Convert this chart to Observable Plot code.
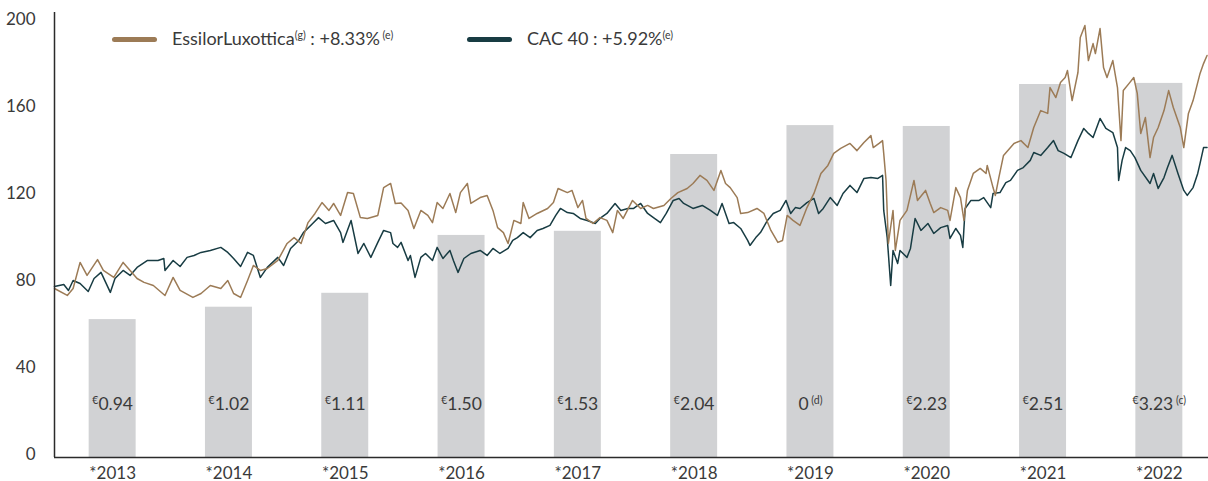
<!DOCTYPE html>
<html><head><meta charset="utf-8">
<script src="https://cdn.jsdelivr.net/npm/d3@7"></script>
<script src="https://cdn.jsdelivr.net/npm/@observablehq/plot@0.6"></script>
<style>
body{margin:0;background:#fff;font-family:Lato,sans-serif;color:#3a3a3a}
#wrap{position:relative;width:1208px;height:481px}
.leg{position:absolute;top:28px;display:flex;align-items:center;font-size:18px;white-space:nowrap;line-height:20px}
.sw{width:45px;height:5px;border-radius:3px;margin-right:15px}
.sup{font-size:10.5px;position:relative;top:-6px}
</style></head><body><div id="wrap"></div>
<script>
const years = [2013,2014,2015,2016,2017,2018,2019,2020,2021,2022];
const barValues = [63.4,69.1,75.5,102.1,104.0,139.3,152.6,152.2,171.5,172.0];
const dividendPrefix = ["€","€","€","€","€","€","","€","€","€"];
const dividendLabels = ["0.94","1.02","1.11","1.50","1.53","2.04","0","2.23","2.51","3.23"];
const dividendNotes = ["","","","","","","(d)","","","(c)"];
const yTicks = [0,40,80,120,160,200];
const seriesNames = ["EssilorLuxottica","CAC 40"];
const seriesPerf = ["+8.33%","+5.92%"];
const seriesNotes = [["(g)","(e)"],["","(e)"]];

const essilorSeries = [[2013.00,77.7],[2013.11,74.5],[2013.16,77.7],[2013.22,89.7],[2013.28,83.7],[2013.37,91.0],[2013.42,86.0],[2013.51,82.8],[2013.59,89.7],[2013.65,86.0],[2013.71,82.3],[2013.77,80.5],[2013.85,79.1],[2013.95,74.5],[2014.02,82.8],[2014.08,76.8],[2014.19,73.6],[2014.26,75.4],[2014.34,79.1],[2014.43,77.7],[2014.49,81.4],[2014.54,75.4],[2014.60,73.6],[2014.66,81.4],[2014.71,88.3],[2014.77,86.0],[2014.83,86.9],[2014.92,90.6],[2015.00,98.4],[2015.06,101.1],[2015.12,98.4],[2015.18,108.0],[2015.24,112.2],[2015.30,117.2],[2015.36,113.6],[2015.40,116.8],[2015.46,111.3],[2015.52,121.8],[2015.57,121.4],[2015.63,110.3],[2015.69,109.9],[2015.78,111.3],[2015.83,124.1],[2015.89,126.0],[2015.93,116.8],[2015.98,117.0],[2016.04,113.6],[2016.09,105.3],[2016.15,113.6],[2016.21,111.3],[2016.25,108.0],[2016.29,117.2],[2016.34,114.5],[2016.40,121.4],[2016.45,112.6],[2016.49,121.8],[2016.55,126.0],[2016.58,116.8],[2016.66,119.5],[2016.72,120.5],[2016.77,113.6],[2016.81,105.7],[2016.86,103.4],[2016.90,98.4],[2016.95,109.0],[2017.01,107.6],[2017.03,117.2],[2017.08,109.9],[2017.15,112.2],[2017.24,114.5],[2017.29,117.2],[2017.33,123.7],[2017.41,121.8],[2017.45,122.8],[2017.50,114.9],[2017.54,118.2],[2017.57,109.9],[2017.63,107.6],[2017.69,110.3],[2017.75,109.0],[2017.80,103.4],[2017.84,113.6],[2017.89,109.9],[2017.97,118.2],[2018.04,114.5],[2018.10,115.9],[2018.15,114.5],[2018.24,115.9],[2018.30,119.1],[2018.36,121.8],[2018.44,123.7],[2018.49,126.0],[2018.55,129.7],[2018.61,127.4],[2018.67,122.8],[2018.73,132.0],[2018.77,126.0],[2018.81,124.1],[2018.87,119.5],[2018.90,112.2],[2018.96,112.6],[2019.04,114.5],[2019.10,112.2],[2019.16,104.4],[2019.22,98.9],[2019.26,99.8],[2019.30,111.3],[2019.35,109.0],[2019.41,106.7],[2019.47,114.9],[2019.53,121.4],[2019.56,126.0],[2019.59,130.6],[2019.65,134.3],[2019.70,139.8],[2019.76,142.1],[2019.84,144.4],[2019.90,141.1],[2019.96,144.8],[2020.02,148.0],[2020.04,142.5],[2020.09,144.4],[2020.12,145.7],[2020.13,139.8],[2020.15,127.4],[2020.17,98.4],[2020.21,113.6],[2020.23,95.2],[2020.27,109.0],[2020.33,113.6],[2020.39,127.4],[2020.42,118.2],[2020.49,122.8],[2020.53,116.8],[2020.56,112.6],[2020.62,114.9],[2020.68,113.6],[2020.70,109.0],[2020.75,124.1],[2020.79,119.5],[2020.82,109.0],[2020.85,122.8],[2020.90,130.6],[2020.96,132.9],[2021.01,130.6],[2021.02,134.3],[2021.07,124.1],[2021.09,120.5],[2021.12,128.7],[2021.16,138.9],[2021.25,144.4],[2021.31,145.7],[2021.37,142.5],[2021.42,151.7],[2021.48,159.5],[2021.54,158.2],[2021.56,170.1],[2021.61,165.5],[2021.65,172.4],[2021.69,174.7],[2021.71,177.9],[2021.75,164.1],[2021.80,177.0],[2021.82,193.1],[2021.86,198.6],[2021.89,182.5],[2021.93,190.3],[2021.95,185.7],[2021.99,197.2],[2022.02,179.3],[2022.05,174.7],[2022.10,182.5],[2022.14,170.1],[2022.17,145.7],[2022.19,168.7],[2022.24,172.0],[2022.28,174.7],[2022.31,167.4],[2022.34,149.0],[2022.38,156.3],[2022.42,137.9],[2022.45,147.1],[2022.49,151.7],[2022.54,159.5],[2022.58,168.7],[2022.62,160.9],[2022.68,151.7],[2022.71,142.5],[2022.75,158.2],[2022.79,164.1],[2022.85,176.6],[2022.88,181.1],[2022.91,184.8]];

const cacSeries = [[2013.00,78.6],[2013.08,79.5],[2013.12,76.8],[2013.16,81.4],[2013.22,80.0],[2013.29,76.3],[2013.34,82.3],[2013.40,85.1],[2013.46,78.2],[2013.48,75.9],[2013.52,82.3],[2013.59,86.0],[2013.65,83.7],[2013.71,87.4],[2013.80,90.6],[2013.89,90.6],[2013.94,91.5],[2013.95,86.0],[2014.02,90.6],[2014.08,87.8],[2014.14,92.0],[2014.20,92.9],[2014.26,94.3],[2014.34,95.2],[2014.43,96.6],[2014.49,94.3],[2014.54,91.5],[2014.60,87.8],[2014.66,94.3],[2014.71,92.9],[2014.77,82.8],[2014.83,87.4],[2014.92,92.0],[2014.97,88.3],[2015.03,96.1],[2015.10,99.8],[2015.14,103.4],[2015.22,107.6],[2015.27,110.3],[2015.33,107.6],[2015.40,109.0],[2015.46,103.4],[2015.48,98.9],[2015.55,109.0],[2015.61,93.8],[2015.66,98.4],[2015.72,92.0],[2015.78,98.9],[2015.83,104.4],[2015.89,103.4],[2015.91,98.4],[2015.95,96.6],[2015.98,98.9],[2016.04,90.6],[2016.06,92.9],[2016.10,82.8],[2016.15,92.0],[2016.19,93.8],[2016.25,90.6],[2016.29,96.6],[2016.34,91.5],[2016.40,95.2],[2016.43,90.6],[2016.47,85.1],[2016.52,91.5],[2016.58,93.8],[2016.66,95.2],[2016.72,92.9],[2016.77,96.1],[2016.83,93.8],[2016.90,96.1],[2016.94,99.8],[2016.98,101.1],[2017.03,103.4],[2017.09,101.1],[2017.15,104.4],[2017.20,105.3],[2017.26,106.7],[2017.31,111.3],[2017.35,114.5],[2017.41,112.6],[2017.46,112.2],[2017.52,109.9],[2017.58,109.0],[2017.65,107.6],[2017.69,109.9],[2017.75,112.2],[2017.82,116.8],[2017.87,113.6],[2017.93,114.5],[2017.98,114.5],[2018.04,116.8],[2018.10,112.2],[2018.15,110.3],[2018.21,108.0],[2018.26,112.2],[2018.32,118.2],[2018.37,119.1],[2018.41,116.8],[2018.49,114.5],[2018.57,115.9],[2018.64,113.6],[2018.70,111.3],[2018.74,116.8],[2018.80,107.6],[2018.84,108.0],[2018.90,105.3],[2018.96,99.8],[2018.98,97.5],[2019.03,101.1],[2019.07,103.4],[2019.13,109.0],[2019.18,112.2],[2019.24,113.6],[2019.29,118.2],[2019.33,112.2],[2019.37,114.9],[2019.41,114.5],[2019.47,117.2],[2019.53,119.1],[2019.57,112.2],[2019.61,114.5],[2019.67,119.5],[2019.73,115.9],[2019.78,121.4],[2019.84,125.1],[2019.90,121.8],[2019.96,128.3],[2020.02,128.7],[2020.08,128.3],[2020.12,129.7],[2020.13,113.6],[2020.16,101.1],[2020.19,79.1],[2020.21,95.2],[2020.25,89.2],[2020.27,95.2],[2020.33,92.0],[2020.36,96.1],[2020.40,109.9],[2020.45,104.4],[2020.51,107.6],[2020.56,103.0],[2020.62,105.7],[2020.68,106.7],[2020.70,100.7],[2020.75,105.3],[2020.79,102.1],[2020.81,96.6],[2020.83,114.5],[2020.88,118.2],[2020.95,118.2],[2020.99,119.5],[2021.05,114.9],[2021.07,121.4],[2021.13,121.8],[2021.18,126.4],[2021.22,127.4],[2021.28,132.0],[2021.33,133.3],[2021.39,136.6],[2021.42,140.2],[2021.48,138.9],[2021.54,142.5],[2021.59,145.7],[2021.63,141.1],[2021.68,139.8],[2021.74,137.9],[2021.80,145.7],[2021.85,151.3],[2021.89,149.0],[2021.93,147.1],[2021.99,155.9],[2022.04,151.3],[2022.10,149.4],[2022.14,142.5],[2022.15,127.4],[2022.18,136.6],[2022.21,142.5],[2022.25,141.1],[2022.29,137.9],[2022.34,132.0],[2022.42,126.0],[2022.45,130.6],[2022.49,123.7],[2022.54,128.7],[2022.57,133.3],[2022.61,138.9],[2022.66,130.6],[2022.71,122.8],[2022.74,120.5],[2022.79,124.1],[2022.83,130.6],[2022.85,135.2],[2022.88,142.5],[2022.91,142.5]];

const colors = {essilor:"#9c7b56", cac:"#183c43", bar:"#d1d2d4", text:"#3a3a3a", axis:"#2b2b2b"};

const bars = years.map((year,i)=>({year, value:barValues[i], pre:dividendPrefix[i], label:dividendLabels[i], note:dividendNotes[i]}));
const el = essilorSeries.map(([t,v])=>({t,v}));
const cac = cacSeries.map(([t,v])=>({t,v}));

const chart = Plot.plot({
  width:1208, height:481,
  marginTop:12, marginBottom:24, marginLeft:54, marginRight:0,
  style:{fontFamily:"Lato, sans-serif", fontSize:"17px", color:colors.text, background:"#fff", overflow:"visible"},
  x:{type:"linear", domain:[2013,2023], range:[54,1217], ticks:years.map(y=>y+0.5), tickFormat:d=>"*"+Math.floor(d), tickSize:0, tickPadding:9, label:null},
  y:{domain:[0,200], range:[457,22], ticks:yTicks, tickSize:0, tickPadding:19, label:null},
  marks:[
    Plot.rectY(bars,{x1:d=>d.year+0.298, x2:d=>d.year+0.702, y1:0, y2:"value", fill:colors.bar}),
    Plot.text(bars,{x:d=>d.year+0.5, frameAnchor:"bottom", dy:-48, text:d=>`${d.pre}|${d.label}|${d.note}`, fill:colors.text, fontSize:17.5}),
    Plot.line(cac,{x:"t", y:"v", stroke:colors.cac, strokeWidth:1.5}),
    Plot.line(el,{x:"t", y:"v", stroke:colors.essilor, strokeWidth:1.5}),
    Plot.ruleY([0],{stroke:colors.axis, strokeWidth:1.5}),
    Plot.ruleX([2013],{stroke:colors.axis, strokeWidth:1.5})
  ]
});

const NS = "http://www.w3.org/2000/svg";
chart.querySelectorAll("text").forEach(t=>{
  const s = t.textContent;
  if (!s.includes("|")) return;
  const [pre, main, note] = s.split("|");
  t.textContent = "";
  if (pre) { const a = document.createElementNS(NS,"tspan"); a.setAttribute("font-size","10.5"); a.setAttribute("dy","-6"); a.textContent = pre; t.appendChild(a); }
  const b = document.createElementNS(NS,"tspan"); if (pre) b.setAttribute("dy","6"); b.textContent = main; t.appendChild(b);
  if (note) { const c = document.createElementNS(NS,"tspan"); c.setAttribute("font-size","10.5"); c.setAttribute("dy","-6"); c.textContent = "\u00a0" + note; t.appendChild(c); }
});
// nudge the y tick-label group up a little
chart.querySelectorAll('g[aria-label^="y-axis"]').forEach(g=>{
  g.setAttribute("transform", ((g.getAttribute("transform")||"") + " translate(0,-3)").trim());
});

const wrap = document.getElementById("wrap");
wrap.appendChild(chart);

const legendLefts = [112, 467];
[colors.essilor, colors.cac].forEach((c,i)=>{
  const d = document.createElement("div");
  d.className = "leg";
  d.style.left = legendLefts[i] + "px";
  const [n1, n2] = seriesNotes[i];
  d.innerHTML = `<span class="sw" style="background:${c}"></span><span>${seriesNames[i]}${n1?`<span class="sup">${n1}</span>`:""} : ${seriesPerf[i]}<span class="sup">${i===0?"&nbsp;":""}${n2}</span></span>`;
  wrap.appendChild(d);
});
</script></body></html>
